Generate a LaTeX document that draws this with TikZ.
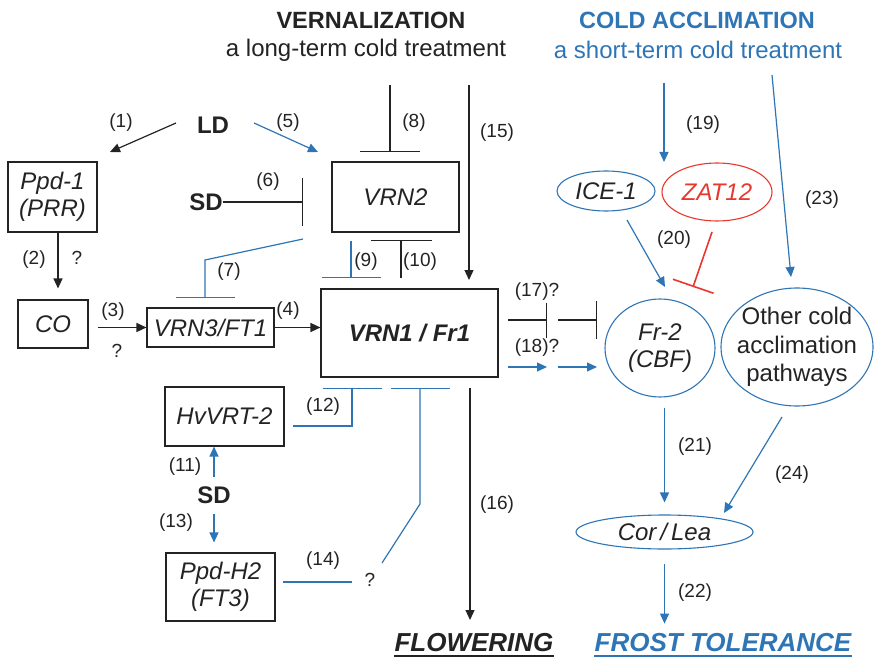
\documentclass[tikz,border=0pt]{standalone}
\usepackage{fontspec}
\setmainfont{Liberation Sans}
\usetikzlibrary{arrows.meta,shapes.geometric}
\definecolor{cblue}{RGB}{46,117,182}
\definecolor{cred}{RGB}{232,55,44}
\definecolor{cdark}{RGB}{35,35,35}
\begin{document}
\begin{tikzpicture}[x=1pt,y=-1pt,
  every node/.style={inner sep=0pt,text=cdark},
  title/.style={font=\fontsize{23.5}{26}\selectfont\bfseries},
  sub/.style={font=\fontsize{24}{27}\selectfont},
  bold/.style={font=\fontsize{24}{27}\selectfont\bfseries},
  lab/.style={font=\fontsize{19}{22}\selectfont},
  gbox/.style={draw=cdark,line width=1.1pt,align=center,
    font=\fontsize{24}{27}\selectfont\itshape},
  ell/.style={ellipse,draw=cblue,line width=1.1pt,align=center,
    font=\fontsize{24}{27}\selectfont\itshape},
  ulabel/.style={font=\fontsize{26}{29}\selectfont\bfseries\itshape},
  con/.style={draw=cdark,line width=1.2pt},
  bcon/.style={draw=cblue,line width=1.2pt},
  arr/.style={-{Triangle[length=10pt,width=9pt]}},
  inh/.style={-{Bar[width=#1]}}
]
\useasboundingbox (0,0) rectangle (888,660);

% headings
\node[title] (vern) at (371,20) {VERNALIZATION};
\node[sub] (vsub) at (366,50) {a long-term cold treatment};
\node[title,text=cblue] (cold) at (697,20) {COLD ACCLIMATION};
\node[sub,text=cblue] (csub) at (698,50) {a short-term cold treatment};

% photoperiod inputs
\node[bold] (ld) at (213,125) {LD};
\node[bold] (sd1) at (206,202) {SD};
\node[bold] (sd2) at (214,495) {SD};

% gene boxes
\node[gbox,minimum width=89pt,minimum height=70pt] (ppd1) at (52.5,197) {Ppd-1\\(PRR)};
\node[gbox,minimum width=70pt,minimum height=48pt] (co) at (53,324) {CO};
\node[gbox,minimum width=127pt,minimum height=39pt] (vrn3) at (210.5,327.5) {VRN3/FT1};
\node[gbox,minimum width=127pt,minimum height=70pt] (vrn2) at (395.5,197) {VRN2};
\node[gbox,minimum width=177pt,minimum height=88pt,
  font=\fontsize{24}{27}\selectfont\bfseries\itshape] (vrn1) at (409.5,333) {VRN1 / Fr1};
\node[gbox,minimum width=119pt,minimum height=59pt] (hvvrt) at (224.5,416.5) {HvVRT-2};
\node[gbox,minimum width=109pt,minimum height=68pt] (ppdh2) at (220.5,587) {Ppd-H2\\(FT3)};

% cold acclimation ellipses
\node[ell,minimum width=98pt,minimum height=40pt] (ice) at (606,191) {ICE-1};
\node[ell,draw=cred,text=cred,minimum width=110pt,minimum height=58pt] (zat) at (717,192) {ZAT12};
\node[ell,minimum width=110pt,minimum height=98pt] (fr2) at (660,348) {Fr-2\\(CBF)};
\node[ell,inner xsep=-12pt,inner ysep=-3pt,minimum width=152pt,minimum height=118pt,
  font=\fontsize{24}{28.5}\selectfont] (oth) at (797,347) {Other cold\\acclimation\\pathways};
\node[ell,minimum width=177pt,minimum height=34pt] (corlea) at (664.5,532) {Cor\,/\,Lea};

% outcomes
\node[ulabel] (flow) at (474,643) {FLOWERING};
\node[ulabel,text=cblue] (frost) at (723,643) {FROST TOLERANCE};
\draw[cdark,line width=2pt] ([yshift=-4pt]flow.base west) -- ([yshift=-4pt]flow.base east);
\draw[cblue,line width=2pt] ([yshift=-4pt]frost.base west) -- ([yshift=-4pt]frost.base east);

% pathway numbers
\node[lab] (l1) at (121,123) {(1)};
\node[lab] (l2) at (34,260) {(2)};
\node[lab] (q2) at (77,258) {?};
\node[lab] (l3) at (113,312) {(3)};
\node[lab] (q3) at (117,351) {?};
\node[lab] (l4) at (288,311) {(4)};
\node[lab] (l5) at (288,123) {(5)};
\node[lab] (l6) at (268,182) {(6)};
\node[lab] (l7) at (229,272) {(7)};
\node[lab] (l8) at (414,123) {(8)};
\node[lab] (l9) at (366,262) {(9)};
\node[lab] (l10) at (420,262) {(10)};
\node[lab] (l11) at (185,467) {(11)};
\node[lab] (l12) at (323,407) {(12)};
\node[lab] (l13) at (176,523) {(13)};
\node[lab] (l14) at (323,561) {(14)};
\node[lab] (q14) at (370,580) {?};
\node[lab] (l15) at (497,133) {(15)};
\node[lab] (l16) at (497,505) {(16)};
\node[lab] (l17) at (537,292) {(17)?};
\node[lab] (l18) at (537,348) {(18)?};
\node[lab] (l19) at (703,125) {(19)};
\node[lab] (l20) at (674,240) {(20)};
\node[lab] (l21) at (695,447) {(21)};
\node[lab] (l22) at (695,593) {(22)};
\node[lab] (l23) at (822,200) {(23)};
\node[lab] (l24) at (792,475) {(24)};

% free connector ends
\coordinate (c1a) at (176,123);  \coordinate (c1b) at (110,152);
\coordinate (c5a) at (254,123);  \coordinate (c5b) at (318,152);
\coordinate (c6) at (303,202);
\coordinate (c7a) at (303,239);  \coordinate (c7k) at (205,260); \coordinate (c7b) at (205,298);
\coordinate (c8a) at (390,85);   \coordinate (c8b) at (390,152);
\coordinate (c15a) at (469,85);  \coordinate (c15b) at (469,280);
\coordinate (c9a) at (351,241);  \coordinate (c9b) at (351,278);
\coordinate (c10a) at (401,278); \coordinate (c10b) at (401,240);
\coordinate (c16a) at (470,388); \coordinate (c16b) at (470,620);
\coordinate (c12a) at (293,426); \coordinate (c12k) at (352,426); \coordinate (c12b) at (352,388);
\coordinate (c14a) at (283,582); \coordinate (c14b) at (352,582);
\coordinate (c14c) at (382,563); \coordinate (c14k) at (420,504); \coordinate (c14d) at (420,388);
\coordinate (c17a) at (508,320); \coordinate (c17b) at (547,320);
\coordinate (c17c) at (558,320); \coordinate (c17d) at (597,320);
\coordinate (c18a) at (508,367); \coordinate (c18b) at (547,367);
\coordinate (c18c) at (558,367); \coordinate (c18d) at (597,367);
\coordinate (c19a) at (664,83);  \coordinate (c19b) at (664,162);
\coordinate (c23a) at (772,75);  \coordinate (c23b) at (791,277);
\coordinate (c20a) at (627,220); \coordinate (c20b) at (665,287);
\coordinate (czat) at (712,232); \coordinate (czb) at (693,287);
\coordinate (c24a) at (782,417); \coordinate (c24b) at (724,513);

% vernalization / photoperiod connectors
\draw[con,arr] (c1a) -- (c1b);
\draw[bcon,arr] (c5a) -- (c5b);
\draw[con,arr,shorten >=11pt] ([xshift=5.5pt]ppd1.south) -- ([xshift=5pt]co.north);
\draw[con,arr,shorten <=9pt] (co.east |- vrn3.west) -- (vrn3.west);
\draw[con,arr] (vrn3.east) -- (vrn3.east -| vrn1.west);
\draw[con,inh=48pt] (sd1.east) -- (c6);
\draw[bcon,inh=59pt] (c7a) -- (c7k) -- (c7b);
\draw[con,inh=60pt] (c8a) -- (c8b);
\draw[con,arr] (c15a) -- (c15b);
\draw[bcon,inh=59pt] (c9a) -- (c9b);
\draw[con,inh=61pt] (c10a) -- (c10b);
\draw[con,arr] (c16a) -- (c16b);
\draw[bcon,arr,shorten <=9pt] (sd2.north) -- (sd2.north |- hvvrt.south);
\draw[bcon,arr,shorten <=10pt,shorten >=10pt] (sd2.south) -- (sd2.south |- ppdh2.north);
\draw[bcon,inh=59pt] (c12a) -- (c12k) -- (c12b);
\draw[bcon] (c14a) -- (c14b);
\draw[bcon,inh=59pt] (c14c) -- (c14k) -- (c14d);
\draw[con,inh=35pt] (c17a) -- (c17b);
\draw[con,inh=38pt] (c17c) -- (c17d);
\draw[bcon,arr] (c18a) -- (c18b);
\draw[bcon,arr] (c18c) -- (c18d);

% cold acclimation connectors
\draw[bcon,arr] (c19a) -- (c19b);
\draw[bcon,arr] (c23a) -- (c23b);
\draw[bcon,arr] (c20a) -- (c20b);
\draw[draw=cred,line width=1.6pt,inh=43pt] (czat) -- (czb);
\draw[bcon,arr,shorten <=10pt,shorten >=12pt] (fr2.south -| corlea.north) -- (corlea.north);
\draw[bcon,arr] (c24a) -- (c24b);
\draw[bcon,arr,shorten <=14pt,shorten >=10pt] (corlea.south) -- (corlea.south |- frost.north);
\end{tikzpicture}
\end{document}
